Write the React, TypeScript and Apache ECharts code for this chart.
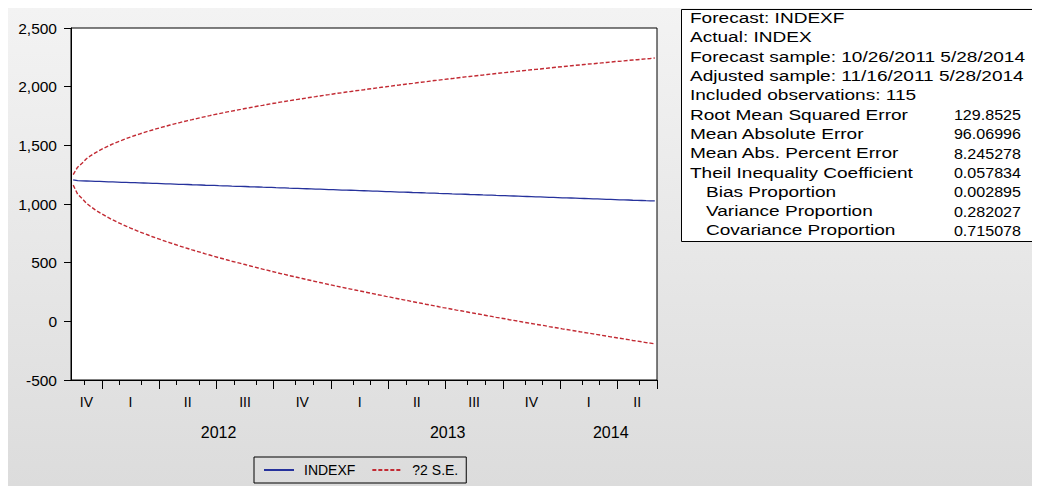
import React, { useEffect, useRef } from "react";
import * as echarts from "echarts";

const FONT = '"Liberation Sans", Arial, sans-serif';

// Weekly observations, first week and count
const startDate = "2011-11-16";
const weekCount = 133;

// INDEXF forecast
const forecast = [
  1206, 1199, 1197, 1196, 1195, 1193, 1192, 1191, 1189, 1188,
  1187, 1185, 1184, 1183, 1182, 1180, 1179, 1178, 1176, 1175,
  1174, 1172, 1171, 1170, 1168, 1167, 1166, 1164, 1163, 1162,
  1160, 1159, 1158, 1156, 1155, 1154, 1152, 1151, 1150, 1149,
  1147, 1146, 1145, 1143, 1142, 1141, 1139, 1138, 1137, 1135,
  1134, 1133, 1131, 1130, 1129, 1127, 1126, 1125, 1123, 1122,
  1121, 1119, 1118, 1117, 1116, 1114, 1113, 1112, 1110, 1109,
  1108, 1106, 1105, 1104, 1102, 1101, 1100, 1098, 1097, 1096,
  1094, 1093, 1092, 1090, 1089, 1088, 1086, 1085, 1084, 1083,
  1081, 1080, 1079, 1077, 1076, 1075, 1073, 1072, 1071, 1069,
  1068, 1067, 1065, 1064, 1063, 1061, 1060, 1059, 1057, 1056,
  1055, 1053, 1052, 1051, 1050, 1048, 1047, 1046, 1044, 1043,
  1042, 1040, 1039, 1038, 1036, 1035, 1034, 1032, 1031, 1030,
  1028, 1027, 1026,
];

// 2 x standard error band half-width
const twoSE = [
  45, 115, 150, 190, 218, 243, 266, 286, 306, 324,
  341, 357, 373, 388, 402, 416, 429, 442, 455, 467,
  479, 491, 502, 513, 524, 535, 545, 555, 565, 575,
  585, 594, 604, 613, 622, 631, 640, 648, 656, 665,
  673, 682, 690, 698, 706, 714, 722, 730, 737, 745,
  752, 759, 766, 774, 781, 788, 795, 802, 809, 816,
  823, 829, 836, 842, 849, 855, 861, 868, 874, 881,
  887, 893, 899, 906, 912, 918, 924, 930, 936, 942,
  948, 954, 960, 966, 972, 977, 983, 989, 994, 1000,
  1006, 1011, 1017, 1022, 1028, 1033, 1039, 1044, 1049, 1055,
  1060, 1065, 1071, 1076, 1081, 1086, 1091, 1096, 1102, 1107,
  1112, 1117, 1122, 1127, 1132, 1137, 1142, 1147, 1151, 1156,
  1161, 1166, 1171, 1176, 1180, 1185, 1190, 1195, 1199, 1204,
  1209, 1213, 1218,
];

const yMin = -500;
const yMax = 2500;
const yStep = 500;
const quarterNames = ["I", "II", "III", "IV"];
const legendNames = ["INDEXF", "?2 S.E."];

const statsHeader = [
  "Forecast: INDEXF",
  "Actual: INDEX",
  "Forecast sample: 10/26/2011 5/28/2014",
  "Adjusted sample: 11/16/2011 5/28/2014",
  "Included observations: 115",
];
const statsLabels = [
  "Root Mean Squared Error",
  "Mean Absolute Error",
  "Mean Abs. Percent Error",
  "Theil Inequality Coefficient",
  "Bias Proportion",
  "Variance Proportion",
  "Covariance Proportion",
];
const statsIndent = [false, false, false, false, true, true, true];
const statsValues = [
  "129.8525",
  "96.06996",
  "8.245278",
  "0.057834",
  "0.002895",
  "0.282027",
  "0.715078",
];

// ---- derived axis helpers ----
const categories: string[] = [];
{
  const t0 = new Date(startDate + "T00:00:00Z").getTime();
  for (let i = 0; i < weekCount; i++) {
    categories.push(new Date(t0 + i * 7 * 86400000).toISOString().slice(0, 10));
  }
}
const monthOf = (s: string) => parseInt(s.slice(5, 7), 10);
const yearOf = (s: string) => s.slice(0, 4);
const quarterKey = (s: string) => yearOf(s) + "Q" + Math.ceil(monthOf(s) / 3);

const monthTicks = new Set<number>();
const quarterTicks = new Set<number>();
for (let i = 1; i < categories.length; i++) {
  if (monthOf(categories[i]) !== monthOf(categories[i - 1])) monthTicks.add(i);
  if (quarterKey(categories[i]) !== quarterKey(categories[i - 1])) quarterTicks.add(i);
}
function midIndices(keyFn: (s: string) => string, minLen: number) {
  const res = new Set<number>();
  let start = 0;
  for (let i = 1; i <= categories.length; i++) {
    if (i === categories.length || keyFn(categories[i]) !== keyFn(categories[start])) {
      if (i - start >= minLen) res.add(Math.round((start + i - 1) / 2));
      start = i;
    }
  }
  return res;
}
const quarterLabelIdx = midIndices(quarterKey, 1);
const yearLabelIdx = midIndices(yearOf, 13);

const upper = forecast.map((v, i) => v + twoSE[i]);
const lower = forecast.map((v, i) => v - twoSE[i]);

const BLUE = "#26329c";
const RED = "#c22a33";

function buildOption() {
  const boxX = 673;
  const boxY = 1;
  const boxW = 362;
  const boxH = 232;
  const rowY0 = boxY + 9.5;
  const rowH = 19.3;
  const labelScale = 1.36;
  const valueScale = 1.15;
  const graphics: any[] = [
    {
      type: "rect",
      shape: { x: boxX + 0.5, y: boxY + 0.5, width: boxW, height: boxH },
      style: { fill: "#ffffff", stroke: "#000000", lineWidth: 1 },
      silent: true,
    },
  ];
  statsHeader.forEach((t, i) => {
    graphics.push({
      type: "text",
      x: boxX + 9,
      y: rowY0 + i * rowH,
      scaleX: labelScale,
      style: {
        text: t,
        fill: "#000",
        fontSize: 14,
        fontFamily: FONT,
        align: "left",
        verticalAlign: "middle",
      },
    });
  });
  statsLabels.forEach((t, j) => {
    const i = j + statsHeader.length;
    graphics.push({
      type: "text",
      x: boxX + (statsIndent[j] ? 25 : 9),
      y: rowY0 + i * rowH,
      scaleX: labelScale,
      style: {
        text: t,
        fill: "#000",
        fontSize: 14,
        fontFamily: FONT,
        align: "left",
        verticalAlign: "middle",
      },
    });
    graphics.push({
      type: "text",
      x: boxX + 340,
      y: rowY0 + i * rowH,
      scaleX: valueScale,
      style: {
        text: statsValues[j],
        fill: "#000",
        fontSize: 14,
        fontFamily: FONT,
        align: "right",
        verticalAlign: "middle",
      },
    });
  });

  return {
    animation: false,
    backgroundColor: new echarts.graphic.LinearGradient(0, 0, 0, 1, [
      { offset: 0, color: "#f3f3f3" },
      { offset: 1, color: "#dcdcdc" },
    ]),
    textStyle: { fontFamily: FONT },
    grid: {
      left: 63,
      top: 20,
      width: 586,
      height: 352,
      show: true,
      backgroundColor: "#ffffff",
      borderColor: "#000000",
      borderWidth: 1,
    },
    legend: {
      data: legendNames,
      left: 246,
      top: 449,
      orient: "horizontal",
      borderColor: "#000",
      borderWidth: 1,
      padding: [6, 8, 6, 9],
      itemWidth: 30,
      itemHeight: 10,
      itemGap: 16,
      itemStyle: { color: "rgba(0,0,0,0)", borderWidth: 0, opacity: 0 },
      textStyle: { fontSize: 14, color: "#000", fontFamily: FONT, padding: [0, 0, 0, 5] },
    },
    xAxis: [
      {
        type: "category",
        data: categories,
        boundaryGap: true,
        position: "bottom",
        axisLine: { show: true, onZero: false, lineStyle: { color: "#000", width: 1 } },
        axisTick: {
          show: true,
          interval: (i: number) => monthTicks.has(i),
          length: 5,
          lineStyle: { color: "#000" },
        },
        axisLabel: {
          interval: (i: number) => quarterLabelIdx.has(i),
          formatter: (v: string) => quarterNames[Math.ceil(monthOf(v) / 3) - 1],
          margin: 15,
          fontSize: 14,
          color: "#000",
          fontFamily: FONT,
        },
        splitLine: { show: false },
      },
      {
        type: "category",
        data: categories,
        boundaryGap: true,
        position: "bottom",
        axisLine: { show: false, onZero: false },
        axisTick: {
          show: true,
          interval: (i: number) => quarterTicks.has(i),
          length: 9,
          lineStyle: { color: "#000" },
        },
        axisLabel: {
          interval: (i: number) => yearLabelIdx.has(i),
          formatter: (v: string) => yearOf(v),
          margin: 44,
          fontSize: 16,
          color: "#000",
          fontFamily: FONT,
        },
        splitLine: { show: false },
      },
    ],
    yAxis: {
      type: "value",
      min: yMin,
      max: yMax,
      interval: yStep,
      axisLine: { show: true, lineStyle: { color: "#000" } },
      axisTick: { show: true, length: 7, lineStyle: { color: "#000" } },
      axisLabel: {
        formatter: (v: number) => v.toLocaleString("en-US"),
        margin: 14,
        fontSize: 15.5,
        color: "#000",
        fontFamily: FONT,
      },
      splitLine: { show: false },
    },
    series: [
      {
        name: "INDEXF",
        type: "line",
        data: forecast,
        symbol: "none",
        lineStyle: { color: BLUE, width: 1.3 },
        itemStyle: { color: BLUE },
      },
      {
        name: "?2 S.E.",
        type: "line",
        data: upper,
        symbol: "none",
        lineStyle: { color: RED, width: 1.4, type: [4, 2] },
        itemStyle: { color: RED },
      },
      {
        name: "?2 S.E.",
        type: "line",
        data: lower,
        symbol: "none",
        lineStyle: { color: RED, width: 1.4, type: [4, 2] },
        itemStyle: { color: RED },
      },
    ],
    graphic: graphics,
  };
}

export default function App() {
  const ref = useRef<HTMLDivElement>(null);
  useEffect(() => {
    document.documentElement.style.overflow = "hidden";
    document.body.style.overflow = "hidden";
    const chart = echarts.init(ref.current!, null, { renderer: "svg" });
    chart.setOption(buildOption() as any);
    return () => chart.dispose();
  }, []);
  return <div ref={ref} style={{ width: 1032, height: 478 }} />;
}
